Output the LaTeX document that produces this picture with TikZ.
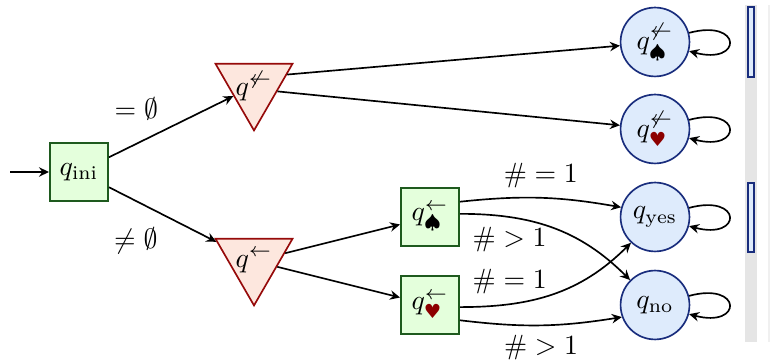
\documentclass[tikz,border=0pt]{standalone}
\usepackage{amsmath}
\usepackage{fontspec}
\usetikzlibrary{shapes.geometric,arrows.meta}
\newfontfamily\suitfont{DejaVu Sans}
\definecolor{boxFill}{RGB}{228,255,220}
\definecolor{boxLine}{RGB}{30,90,30}
\definecolor{triFill}{RGB}{253,231,222}
\definecolor{triLine}{RGB}{150,10,10}
\definecolor{circFill}{RGB}{222,235,252}
\definecolor{circLine}{RGB}{25,45,125}
\definecolor{heartRed}{RGB}{140,0,0}
\newcommand{\qheart}{\text{\suitfont\color{heartRed}♥}}
\begin{document}
\begin{tikzpicture}
[x=0.36pt,y=0.36pt,>={Stealth[length=3.6pt,width=3.4pt,inset=1.2pt]},%
  lineDecorate/.style={->,semithick},%
  loopDecorate/.style={->,semithick,loop,out=15,in=-15,min distance=20pt},%
  boxDecorate/.style={shape=rectangle,minimum size=21pt,inner sep=0pt,draw=boxLine,fill=boxFill,semithick},%
  triDecorate/.style={regular polygon,regular polygon sides=3,regular polygon rotate=180,minimum size=32pt,inner sep=-1.4pt,draw=triLine,fill=triFill,semithick},%
  circDecorate/.style={shape=circle,minimum size=24.8pt,inner sep=0pt,draw=circLine,fill=circFill,semithick}]
\useasboundingbox (0,0) rectangle (770,-361);
%% states
\foreach \nodename/\x/\y/\txt in {
  qini/79/172/{$q_{\mathrm{ini}}$},
  bspade/430/217/{$q^{\leftarrow}_{\spadesuit}$},
  bheart/430/305/{$q^{\leftarrow}_{\qheart}$}}
{
  \node (\nodename) at (\x,-\y) [boxDecorate] {\txt};
}
\foreach \nodename/\x/\y/\txt in {
  tnot/254/86/{$q^{\not\leftarrow}$},
  tback/254/261/{$q^{\leftarrow}$}}
{
  \node (\nodename) at (\x,-\y) [triDecorate] {\txt};
}
\foreach \nodename/\x/\y/\txt in {
  cspade/655/42/{$q^{\not\leftarrow}_{\spadesuit}$},
  cheart/655/129/{$q^{\not\leftarrow}_{\qheart}$},
  cyes/655/217/{$q_{\mathrm{yes}}$},
  cno/655/305/{$q_{\mathrm{no}}$}}
{
  \node (\nodename) at (\x,-\y) [circDecorate] {\txt};
}
\coordinate (start) at (10,-172);
%% transitions
\path (start) edge[lineDecorate] (qini)
  (qini) edge[lineDecorate] node[pos=0.22,above=5pt] {$=\emptyset$} (tnot)
  (qini) edge[lineDecorate] node[pos=0.25,below=6pt] {$\neq\emptyset$} (tback)
  (tnot.19) edge[lineDecorate] (cspade.186)
  (tnot.-13) edge[lineDecorate] (cheart.174);
\path
\foreach \startnode/\endnode in {tback/bspade, tback/bheart}
{
  (\startnode) edge[lineDecorate] (\endnode)
};
\path (bspade.27) edge[lineDecorate,bend left=8] node[above] {$\#=1$} (cyes.164)
  (bspade.6) edge[lineDecorate,out=0,in=135] node[pos=0.25,below] {$\#>1$} (cno.135)
  (bheart.-4) edge[lineDecorate,out=0,in=-135] node[pos=0.25,above] {$\#=1$} (cyes.-133)
  (bheart.-27) edge[lineDecorate,bend right=8] node[below] {$\#>1$} (cno.200);
\path
\foreach \nodename in {cspade, cheart, cyes, cno}
{
  (\nodename) edge[loopDecorate] (\nodename)
};
%% side bar
\fill[black!10] (745,-5) rectangle (757,-342);
\draw[circLine,fill=circFill,thin] (748,-7) rectangle (754,-77);
\draw[circLine,fill=circFill,thin] (748,-183) rectangle (754,-252);
\fill[black!6] (767.5,-5) rectangle (770,-342);
\end{tikzpicture}
\end{document}
